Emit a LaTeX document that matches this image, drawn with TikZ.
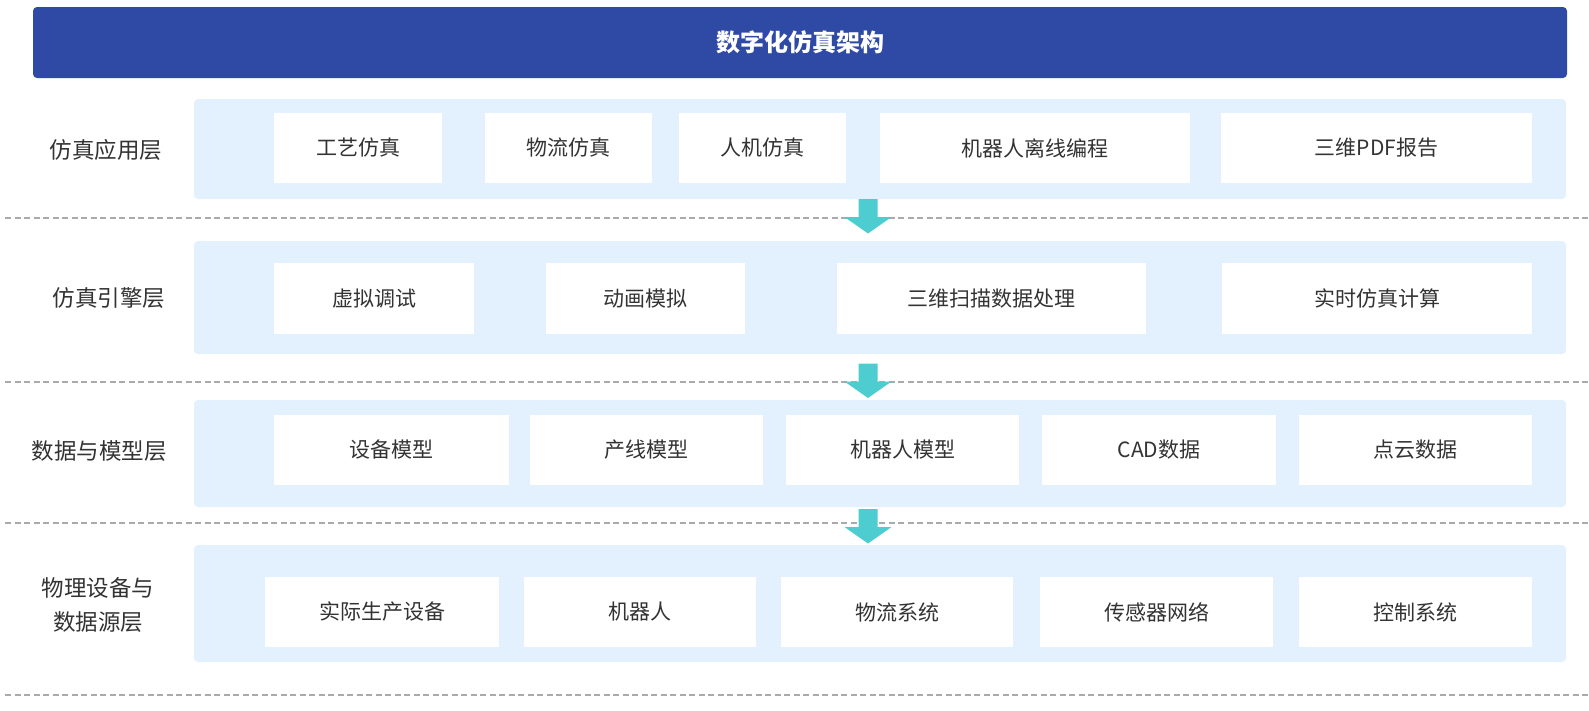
\documentclass[tikz,border=0pt]{standalone}
\usepackage{fontspec}
\setmainfont{Noto Sans CJK SC}
\begin{document}
\begin{tikzpicture}[x=1pt,y=-1pt,
  titlecol/.style={},
  band/.style={fill=bandblue, rounded corners=4pt, draw=none, inner sep=0pt},
  itembox/.style={fill=white, draw=none, inner sep=0pt, minimum height=70pt,
    text=txtgray, font=\fontsize{21}{25}\selectfont},
  layerlabel/.style={text=txtgray, font=\fontsize{22.5}{34}\selectfont, align=center, inner sep=0pt},
  sepline/.style={draw=dashgray, line width=1.3pt, dash pattern=on 6pt off 3.5pt},
  downarrow/.pic={\fill[arrowteal] (-9.5,0) -- (9.5,0) -- (9.5,18) -- (23.5,18) -- (0,34.5) -- (-23.5,18) -- (-9.5,18) -- cycle;}
]
\definecolor{bandblue}{RGB}{227,240,253}
\definecolor{titleblue}{RGB}{47,74,164}
\definecolor{txtgray}{RGB}{51,51,51}
\definecolor{dashgray}{RGB}{170,170,170}
\definecolor{arrowteal}{RGB}{78,205,208}
\useasboundingbox[fill=white] (0,0) rectangle (1589,710);

% title
\node[fill=titleblue, rounded corners=4pt, minimum width=1534pt, minimum height=71pt, inner sep=0pt,
  text=white, font=\bfseries\fontsize{24}{28}\selectfont] (title) at (800,42.5) {数字化仿真架构};

% dashed separators
\coordinate (s1a) at (5,218); \coordinate (s1b) at (1589,218);
\coordinate (s2a) at (5,382); \coordinate (s2b) at (1589,382);
\coordinate (s3a) at (5,523); \coordinate (s3b) at (1589,523);
\coordinate (s4a) at (5,695); \coordinate (s4b) at (1589,695);
\draw[sepline] (s1a) -- (s1b);
\draw[sepline] (s2a) -- (s2b);
\draw[sepline] (s3a) -- (s3b);
\draw[sepline] (s4a) -- (s4b);

% bands
\node[band, minimum width=1372pt, minimum height=100pt] (band1) at (880,149) {};
\node[band, minimum width=1372pt, minimum height=113pt] (band2) at (880,297.5) {};
\node[band, minimum width=1372pt, minimum height=107pt] (band3) at (880,453.5) {};
\node[band, minimum width=1372pt, minimum height=117pt] (band4) at (880,603.5) {};

% layer labels
\node[layerlabel] (l1) at (106,150) {仿真应用层};
\node[layerlabel] (l2) at (109,298) {仿真引擎层};
\node[layerlabel] (l3) at (99,451) {数据与模型层};
\node[layerlabel] (l4) at (98,605) {物理设备与\\数据源层};

% layer 1
\node[itembox, minimum width=168pt] (a1) at (358,148) {工艺仿真};
\node[itembox, minimum width=167pt] (a2) at (568.5,148) {物流仿真};
\node[itembox, minimum width=167pt] (a3) at (762.5,148) {人机仿真};
\node[itembox, minimum width=310pt] (a4) at (1035,148) {机器人离线编程};
\node[itembox, minimum width=311pt] (a5) at (1376.5,148) {三维PDF报告};

% layer 2
\node[itembox, minimum width=200pt, minimum height=71pt] (b1) at (374,298.5) {虚拟调试};
\node[itembox, minimum width=199pt, minimum height=71pt] (b2) at (645.5,298.5) {动画模拟};
\node[itembox, minimum width=309pt, minimum height=71pt] (b3) at (991.5,298.5) {三维扫描数据处理};
\node[itembox, minimum width=310pt, minimum height=71pt] (b4) at (1377,298.5) {实时仿真计算};

% layer 3
\node[itembox, minimum width=235pt] (c1) at (391.5,450) {设备模型};
\node[itembox, minimum width=233pt] (c2) at (646.5,450) {产线模型};
\node[itembox, minimum width=233pt] (c3) at (902.5,450) {机器人模型};
\node[itembox, minimum width=234pt] (c4) at (1159,450) {CAD数据};
\node[itembox, minimum width=233pt] (c5) at (1415.5,450) {点云数据};

% layer 4
\node[itembox, minimum width=234pt] (d1) at (382,612) {实际生产设备};
\node[itembox, minimum width=232pt] (d2) at (640,612) {机器人};
\node[itembox, minimum width=232pt] (d3) at (897,612) {物流系统};
\node[itembox, minimum width=233pt] (d4) at (1156.5,612) {传感器网络};
\node[itembox, minimum width=233pt] (d5) at (1415.5,612) {控制系统};

% arrows between layers
\coordinate (arr1) at (868,199);
\coordinate (arr2) at (868,363.5);
\coordinate (arr3) at (868,509);
\pic at (arr1) {downarrow};
\pic at (arr2) {downarrow};
\pic at (arr3) {downarrow};
\end{tikzpicture}
\end{document}
